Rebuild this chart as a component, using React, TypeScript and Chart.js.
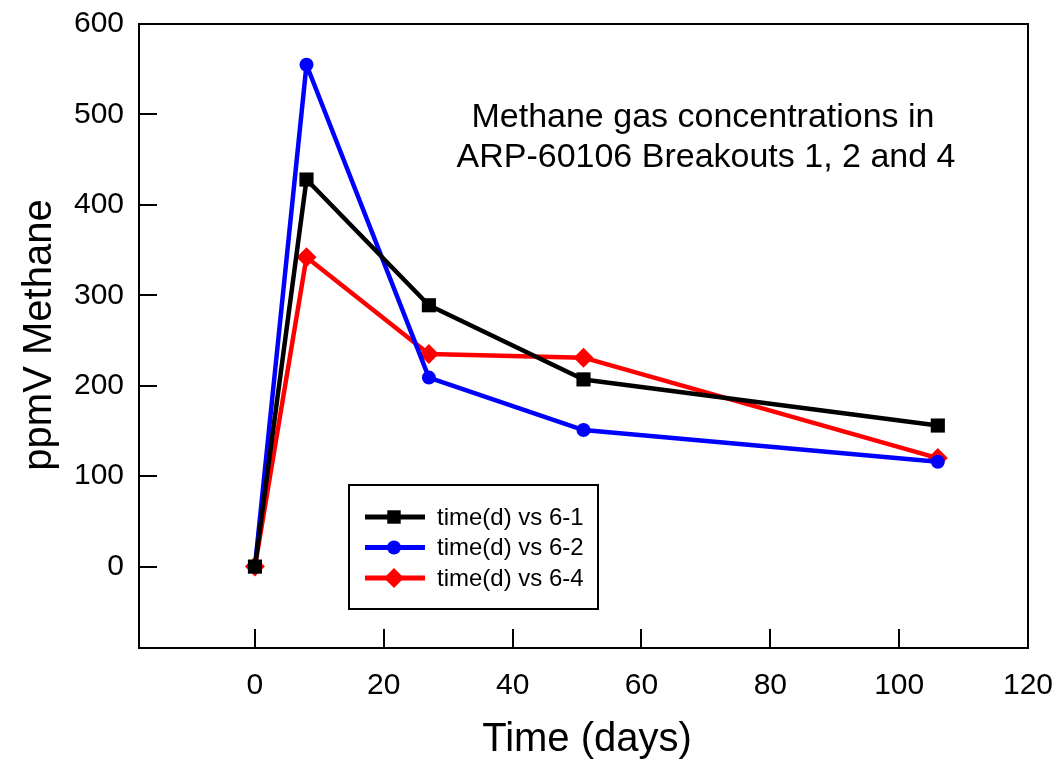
import React, { useEffect, useRef } from "react";
import { Chart, registerables } from "chart.js";
import { drawPoint } from "chart.js/helpers";

Chart.register(...registerables);

const days = [0, 8, 27, 51, 106];
const series61 = [0, 428, 289, 207, 156];
const series62 = [0, 555, 209, 151, 116];
const series64 = [0, 342, 235, 231, 120];
const seriesLabels = ["time(d) vs 6-1", "time(d) vs 6-2", "time(d) vs 6-4"];
const xTicks = [0, 20, 40, 60, 80, 100, 120];
const yTicks = [0, 100, 200, 300, 400, 500, 600];
const annotationLines = ["Methane gas concentrations in", "ARP-60106 Breakouts 1, 2 and 4"];
const xTitle = "Time (days)";
const yTitle = "ppmV Methane";

const FONT = "'Liberation Sans', Arial, sans-serif";

const decorPlugin = {
  id: "decor",
  afterDraw(chart: any) {
    const ctx = chart.ctx;
    const { left, right, top, bottom } = chart.chartArea;
    ctx.save();
    // frame
    ctx.strokeStyle = "#000";
    ctx.lineWidth = 2;
    ctx.strokeRect(left, top, right - left, bottom - top);
    // inward ticks
    const xs = chart.scales.x;
    const ys = chart.scales.y;
    ctx.beginPath();
    xs.ticks.forEach((t: any) => {
      const px = Math.round(xs.getPixelForValue(t.value));
      ctx.moveTo(px, bottom);
      ctx.lineTo(px, bottom - 19);
    });
    ys.ticks.forEach((t: any) => {
      const py = Math.round(ys.getPixelForValue(t.value));
      ctx.moveTo(left, py);
      ctx.lineTo(left + 18, py);
    });
    ctx.stroke();

    // axis titles
    ctx.fillStyle = "#000";
    ctx.textAlign = "center";
    ctx.textBaseline = "middle";
    ctx.font = `40px ${FONT}`;
    ctx.fillText(xTitle, 587, 740);
    ctx.save();
    ctx.translate(40, 335);
    ctx.rotate(-Math.PI / 2);
    ctx.fillText(yTitle, 0, 0);
    ctx.restore();

    // annotation
    ctx.font = `34px ${FONT}`;
    ctx.fillText(annotationLines[0], 703, 118);
    ctx.fillText(annotationLines[1], 706, 158);

    // legend
    const bx = 349, by = 485, bw = 249, bh = 124;
    ctx.lineWidth = 2;
    ctx.strokeRect(bx, by, bw, bh);
    ctx.font = `24px ${FONT}`;
    ctx.textAlign = "left";
    chart.data.datasets.forEach((ds: any, i: number) => {
      const y = 517 + i * 30.5;
      ctx.strokeStyle = ds.borderColor;
      ctx.lineWidth = 5;
      ctx.beginPath();
      ctx.moveTo(365, y);
      ctx.lineTo(425, y);
      ctx.stroke();
      ctx.fillStyle = ds.backgroundColor;
      ctx.strokeStyle = ds.backgroundColor;
      drawPoint(ctx, { pointStyle: ds.pointStyle, radius: ds.legendRadius, rotation: 0, borderWidth: 0 } as any, 394, y);
      ctx.fillStyle = "#000";
      ctx.fillText(ds.label, 437, y + 1);
    });
    ctx.restore();
  },
};

export default function App() {
  const ref = useRef<HTMLCanvasElement>(null);
  useEffect(() => {
    if (!ref.current) return;
    const mk = (vals: number[]) => days.map((d, i) => ({ x: d, y: vals[i] }));
    const chart = new Chart(ref.current, {
      type: "line",
      data: {
        datasets: [
          {
            label: seriesLabels[0],
            data: mk(series61),
            borderColor: "#000000",
            backgroundColor: "#000000",
            borderWidth: 4.5,
            borderJoinStyle: "round",
            pointStyle: "rect",
            pointRadius: 10,
            pointBorderWidth: 0,
            legendRadius: 9.5,
          } as any,
          {
            label: seriesLabels[1],
            data: mk(series62),
            borderColor: "#0000ff",
            backgroundColor: "#0000ff",
            borderWidth: 4.5,
            borderJoinStyle: "round",
            pointStyle: "circle",
            pointRadius: 7,
            pointBorderWidth: 0,
            legendRadius: 7,
          } as any,
          {
            label: seriesLabels[2],
            data: mk(series64),
            borderColor: "#ff0000",
            backgroundColor: "#ff0000",
            borderWidth: 4.5,
            borderJoinStyle: "round",
            pointStyle: "rectRot",
            pointRadius: 10,
            pointBorderWidth: 0,
            legendRadius: 10,
          } as any,
        ],
      },
      options: {
        animation: false,
        responsive: false,
        maintainAspectRatio: false,
        layout: { padding: { top: 24, right: 27, left: 0, bottom: 0 } },
        plugins: { legend: { display: false }, tooltip: { enabled: false } },
        elements: { line: { tension: 0 } },
        scales: {
          x: {
            type: "linear",
            min: -18,
            max: 120,
            grid: { display: false, drawTicks: false },
            border: { display: false },
            afterBuildTicks: (s: any) => {
              s.ticks = xTicks.map((v) => ({ value: v }));
            },
            afterFit: (s: any) => {
              s.height = 111;
              s.paddingLeft = 0;
              s.paddingRight = 0;
            },
            ticks: {
              padding: 20,
              color: "#000",
              font: { family: FONT, size: 30 },
              maxRotation: 0,
              autoSkip: false,
            },
          },
          y: {
            type: "linear",
            min: -90,
            max: 600,
            grid: { display: false, drawTicks: false },
            border: { display: false },
            afterBuildTicks: (s: any) => {
              s.ticks = yTicks.map((v) => ({ value: v }));
            },
            afterFit: (s: any) => {
              s.width = 139;
              s.paddingTop = 0;
              s.paddingBottom = 0;
            },
            ticks: {
              padding: 15,
              color: "#000",
              font: { family: FONT, size: 30 },
              autoSkip: false,
            },
          },
        },
      } as any,
      plugins: [decorPlugin],
    });
    return () => chart.destroy();
  }, []);
  return (
    <div style={{ position: "absolute", left: 0, top: 0, width: 1055, height: 759, background: "#fff" }}>
      <canvas ref={ref} width={1055} height={759} style={{ width: 1055, height: 759, display: "block" }} />
    </div>
  );
}
